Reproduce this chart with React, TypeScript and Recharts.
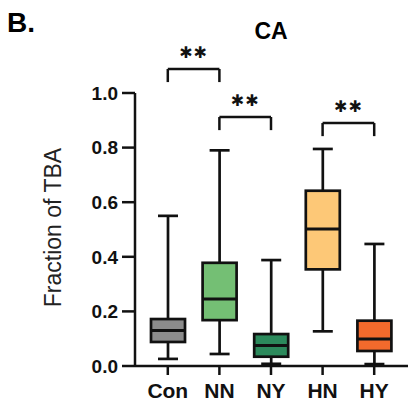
import { ComposedChart, Bar, XAxis, YAxis, ReferenceLine, Label } from 'recharts';

// box plot values per group (fraction of TBA)
const groups = ['Con', 'NN', 'NY', 'HN', 'HY'];
const whiskerLow = [0.026, 0.044, 0.008, 0.127, 0.007];
const quartile1 = [0.088, 0.168, 0.034, 0.354, 0.055];
const medians = [0.13, 0.245, 0.075, 0.502, 0.099];
const quartile3 = [0.172, 0.378, 0.117, 0.642, 0.166];
const whiskerHigh = [0.55, 0.79, 0.388, 0.795, 0.447];
const boxColors = ['#8c8c8c', '#74bf74', '#2c8a5c', '#fdc877', '#f36a2c'];

const yTicks = [0, 0.2, 0.4, 0.6, 0.8, 1.0];

// significance brackets
const bracketFrom = ['Con', 'NN', 'HN'];
const bracketTo = ['NN', 'NY', 'HY'];
const bracketTop = [1.088, 0.912, 0.89];
const bracketDrop = 0.048;

const data = groups.map((g, i) => ({
  group: g,
  range: [whiskerLow[i], whiskerHigh[i]],
  lo: whiskerLow[i],
  q1: quartile1[i],
  med: medians[i],
  q3: quartile3[i],
  hi: whiskerHigh[i],
  fill: boxColors[i],
}));

const font = '"Liberation Sans", Arial, sans-serif';
const ink = '#111';

const BoxShape = (props: any) => {
  const { x, y, width, height, payload } = props;
  const top = Math.min(y, y + height);
  const bottom = Math.max(y, y + height);
  const { lo, hi, q1, med, q3, fill } = payload;
  const px = (v: number) => bottom - ((bottom - top) * (v - lo)) / (hi - lo);
  const cx = x + width / 2;
  const cap = 10;
  return (
    <g stroke={ink} strokeWidth={2.7}>
      <line x1={cx} x2={cx} y1={px(hi)} y2={px(lo)} />
      <line x1={cx - cap} x2={cx + cap} y1={px(hi)} y2={px(hi)} />
      <line x1={cx - cap} x2={cx + cap} y1={px(lo)} y2={px(lo)} />
      <rect x={x} y={px(q3)} width={width} height={px(q1) - px(q3)} fill={fill} />
      <line x1={x} x2={x + width} y1={px(med)} y2={px(med)} strokeWidth={3} />
    </g>
  );
};

const Stars = (props: any) => {
  const { viewBox } = props;
  const cx = viewBox.x + viewBox.width / 2;
  return (
    <text x={cx} y={viewBox.y - 11} textAnchor="middle" fontFamily="DejaVu Sans" fontSize={16} fill={ink} letterSpacing={1}>
      ✱✱
    </text>
  );
};

export default function App() {
  return (
    <div style={{ position: 'absolute', left: 0, top: 0, width: 418, height: 404, background: '#fff', fontFamily: font }}>
      <div style={{ position: 'absolute', left: 7, top: 9, fontSize: 28, fontWeight: 700, lineHeight: 1 }}>B.</div>
      <div style={{ position: 'absolute', left: 221, width: 100, textAlign: 'center', top: 20, fontSize: 23, fontWeight: 700, lineHeight: 1 }}>CA</div>
      <ComposedChart width={418} height={404} data={data} margin={{ top: 93, right: 10, bottom: 0, left: 0 }}>
        <XAxis
          dataKey="group"
          padding={{ left: 7, right: 8 }}
          height={38}
          stroke={ink}
          strokeWidth={2.5}
          tickSize={9}
          tickMargin={8}
          tick={{ fill: ink, fontSize: 21, fontWeight: 700, fontFamily: font }}
        />
        <YAxis
          domain={[0, 1]}
          ticks={yTicks}
          width={135}
          stroke={ink}
          strokeWidth={2.5}
          tickSize={13}
          tickMargin={4}
          tickFormatter={(v: number) => v.toFixed(1)}
          tick={{ fill: ink, fontSize: 19, fontWeight: 700, fontFamily: font }}
        >
          <Label value="Fraction of TBA" angle={-90} position="center" dx={-15} dy={-2} style={{ fontSize: 23, fill: '#222', fontFamily: font }} />
        </YAxis>
        <Bar dataKey="range" barSize={34} shape={<BoxShape />} isAnimationActive={false} />
        {bracketFrom.map((from, i) => (
          <ReferenceLine
            key={`h${i}`}
            segment={[{ x: from, y: bracketTop[i] }, { x: bracketTo[i], y: bracketTop[i] }]}
            stroke={ink}
            strokeWidth={2.5}
            ifOverflow="visible"
            label={<Stars />}
          />
        ))}
        {bracketFrom.map((from, i) => (
          <ReferenceLine
            key={`l${i}`}
            segment={[{ x: from, y: bracketTop[i] }, { x: from, y: bracketTop[i] - bracketDrop }]}
            stroke={ink}
            strokeWidth={2.5}
            ifOverflow="visible"
          />
        ))}
        {bracketTo.map((to, i) => (
          <ReferenceLine
            key={`r${i}`}
            segment={[{ x: to, y: bracketTop[i] }, { x: to, y: bracketTop[i] - bracketDrop }]}
            stroke={ink}
            strokeWidth={2.5}
            ifOverflow="visible"
          />
        ))}
      </ComposedChart>
    </div>
  );
}
